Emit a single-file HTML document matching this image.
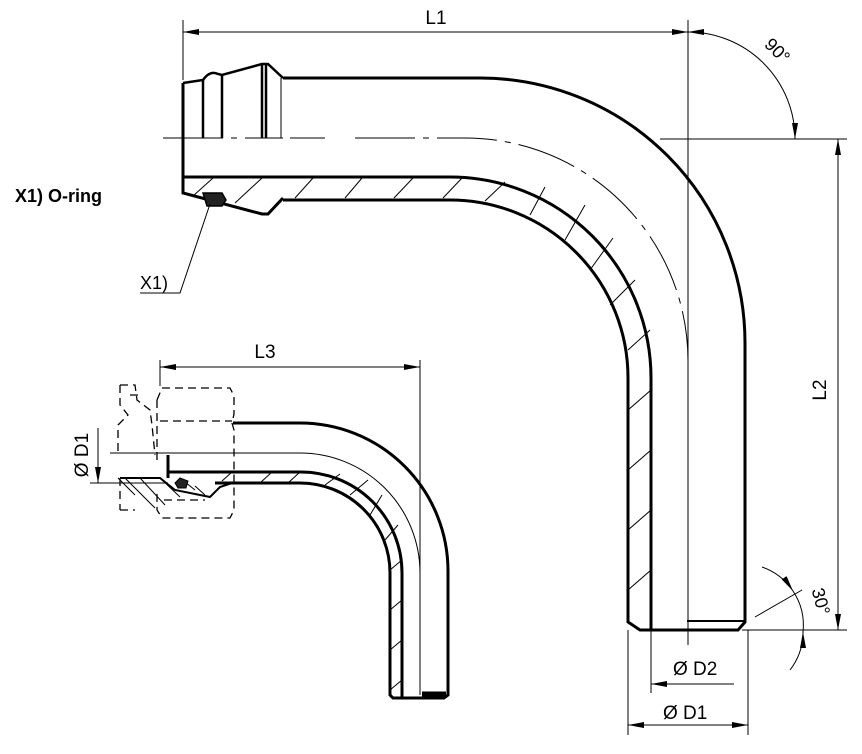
<!DOCTYPE html>
<html><head><meta charset="utf-8"><style>
html,body{margin:0;padding:0;background:#fff;}
svg{display:block;}
text{font-family:"Liberation Sans",Arial,sans-serif;fill:#000;}
</style></head><body>
<svg width="862" height="754" viewBox="0 0 862 754" xmlns="http://www.w3.org/2000/svg">
<defs>
<marker id="a" viewBox="0 0 16 6" refX="16" refY="3" markerWidth="16" markerHeight="6" orient="auto-start-reverse" markerUnits="userSpaceOnUse"><path d="M0,0 L16,3 L0,6 z" fill="#000"/></marker>
</defs>
<g fill="none" stroke="#000">
<path d="M283,78 H480 A265,265 0 0 1 745,343 V622 L738,630 H640 L628,622 V378 A178,178 0 0 0 450,200 H283" stroke-width="3"/>
<path d="M183,177 H450 A201,201 0 0 1 651,378 V630" stroke-width="3"/>
<path d="M183,83 V193 L262,214 H268 L283,198" stroke-width="3"/>
<path d="M183,83 L203,80 Q210,70 218,74 L222,75 L262,64 H268 L283,78" stroke-width="2.5"/>
<path d="M203,80 V138 M222,75 V138 M262,64 V138 M266,64 V138" stroke-width="2.5"/>
<path d="M281,78 V138" stroke-width="1"/>
<g stroke-width="1">
<path d="M193,196 L213,178 M235,203 L262,178 M295,198 L313,178 M345,198 L362,178 M394,198 L413,178 M443,198 L462,178 M485,201 L505,182 M530,215 L545,187 M565,240 L585,205 M590,270 L613,238 M610,305 L635,280 M628,350 L650,330 M628,410 L651,390 M628,470 L651,450 M628,530 L651,510 M628,590 L651,570"/>
</g>
<path d="M203,193 L222,193 L226,200 L222,206 L207,206 Z" fill="#222" stroke-width="1.5"/>
<path d="M210,204 L180,293 H140" stroke-width="1"/>
<path d="M163,138 H283 M290,138 H325 M355,138 H465 A223,223 0 0 1 688,361" stroke-width="1" stroke-dasharray="60,8,6,8"/>
<path d="M688,25 V645" stroke-width="1"/>
<path d="M183,20 V80 M688,20 V30" stroke-width="1"/>
<path d="M183,32 H688" stroke-width="1" marker-start="url(#a)" marker-end="url(#a)"/>
<path d="M660,139 H847 M742,630 H847" stroke-width="1"/>
<path d="M838,139 V630" stroke-width="1" marker-start="url(#a)" marker-end="url(#a)"/>
<path d="M688,32 A107,107 0 0 1 795,139" stroke-width="1" marker-start="url(#a)" marker-end="url(#a)"/>
<path d="M762,567 A62,62 0 0 1 793,591" stroke-width="1" marker-end="url(#a)"/>
<path d="M790,670 A62,62 0 0 0 803,632" stroke-width="1" marker-end="url(#a)"/>
<path d="M793,591 A62,62 0 0 1 803,632" stroke-width="1"/>
<path d="M755,617 L802,590" stroke-width="1"/>
<path d="M628,630 V735 M651,630 V693 M748,630 V735" stroke-width="1"/>
<path d="M734,684 H651" stroke-width="1" marker-end="url(#a)"/>
<path d="M628,725 H748" stroke-width="1" marker-start="url(#a)" marker-end="url(#a)"/>
<path d="M687,621 H745" stroke-width="2"/>
<path d="M233,423 H300 A148,148 0 0 1 448,571 V695 L444,698 H393 L390,695 V573 A90,90 0 0 0 300,483 H215" stroke-width="3"/>
<path d="M168,472 H300 A101,101 0 0 1 402,573 V698" stroke-width="3"/>
<path d="M168,455 V478" stroke-width="3"/>
<path d="M110,453 H300 A120,120 0 0 1 420,573 V695" stroke-width="1"/>
<path d="M422,694 H446" stroke-width="5"/>
<g stroke-width="1">
<path d="M222,481 L232,472 M260,483 L272,472 M288,483 L300,472 M325,485 L340,474 M350,495 L368,480 M370,515 L382,495 M385,540 L398,525 M390,570 L402,560 M390,610 L402,600 M390,650 L402,640 M390,690 L402,680"/>
<path d="M118,478 L135,495 M125,478 L155,508 M140,478 L165,505 M160,478 L180,497 M180,478 L195,490 M195,486 L205,495"/>
</g>
<g stroke-width="1.3" stroke-dasharray="8,5">
<path d="M162,388 H230 L234,396 V414 L232,423 L234,430 V510 L230,518 H162 L157,510 V493 M157,400 L162,388 M157,400 V465"/>
<path d="M160,421 H232 M164,500 H205"/>
<path d="M120,385 V405 L128,415 L118,425 V455 M120,478 V510 M120,510 H135 M120,385 H135 L137,400 L150,410 L152,425 L155,455 M130,395 L138,395"/>
</g>
<path d="M120,478 H160 L175,490 L210,497 L220,487 L232,483" stroke-width="2"/>
<path d="M175,483 L180,478 L188,481 L186,488 L178,488 Z" fill="#222" stroke-width="1"/>
<path d="M160,360 V386 M420,360 V572" stroke-width="1"/>
<path d="M160,367 H420" stroke-width="1" marker-start="url(#a)" marker-end="url(#a)"/>
<path d="M90,483 H168" stroke-width="1"/>
<path d="M98,428 V483" stroke-width="1" marker-end="url(#a)"/>
</g>
<text x="436" y="24" font-size="19" text-anchor="middle">L1</text>
<text x="773" y="55" font-size="18" text-anchor="middle" transform="rotate(45 773 55)">90°</text>
<text x="15" y="202" font-size="18" font-weight="bold">X1) O-ring</text>
<text x="140" y="289" font-size="18">X1)</text>
<text x="826" y="390" font-size="19" text-anchor="middle" transform="rotate(-90 826 390)">L2</text>
<text x="815" y="603" font-size="18" text-anchor="middle" transform="rotate(75 815 603)">30°</text>
<text x="673" y="675" font-size="19">Ø D2</text>
<text x="663" y="719" font-size="19">Ø D1</text>
<text x="265" y="358" font-size="19" text-anchor="middle">L3</text>
<text x="88" y="455" font-size="19" text-anchor="middle" transform="rotate(-90 88 455)">Ø D1</text>
</svg>
</body></html>
